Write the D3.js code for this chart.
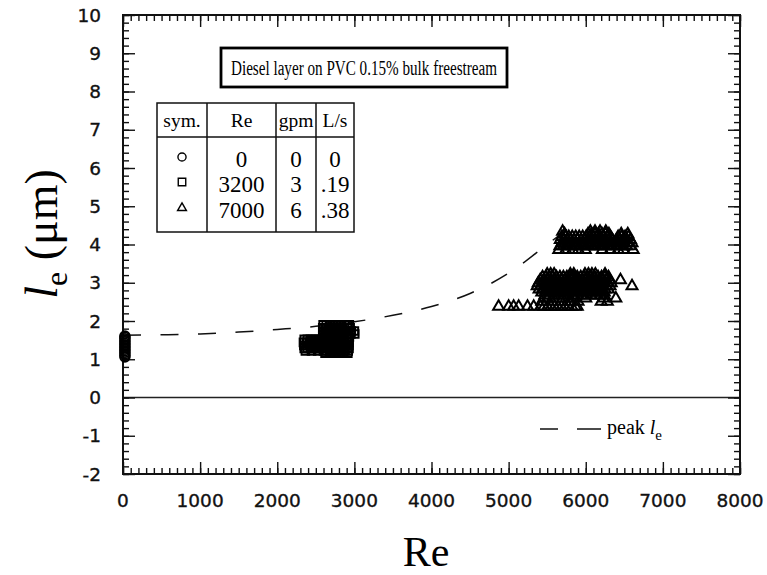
<!DOCTYPE html>
<html>
<head>
<meta charset="utf-8">
<script src="https://cdn.jsdelivr.net/npm/d3@7"></script>
<style>
  html, body { margin: 0; padding: 0; background: #fff; }
  svg { display: block; }
  .serif { font-family: "Liberation Serif", "Times New Roman", serif; }
  .sans { font-family: "DejaVu Sans", Verdana, sans-serif; }
</style>
</head>
<body>
<svg id="chart" width="767" height="575"></svg>
<script>
// ---- data -------------------------------------------------------------
const xTicks = [0, 1000, 2000, 3000, 4000, 5000, 6000, 7000, 8000];
const yTicks = [-2, -1, 0, 1, 2, 3, 4, 5, 6, 7, 8, 9, 10];

// Re = 0 (no flow): measured l_e values
const circleRe = 25;
const circleLe = [1.06, 1.10, 1.14, 1.18, 1.22, 1.26, 1.30, 1.34, 1.38,
                  1.42, 1.46, 1.50, 1.54, 1.58, 1.61];

// Re = 3200 (3 gpm): rows of [l_e, Re values]
const squareRows = [
  [1.90, [2595, 2635, 2675, 2715, 2755, 2795, 2835, 2875, 2915, 2935]],
  [1.82, [2590, 2630, 2670, 2710, 2750, 2790, 2830, 2870, 2910, 2945]],
  [1.74, [2600, 2640, 2680, 2720, 2760, 2800, 2840, 2880, 2920, 2960, 3000]],
  [1.66, [2595, 2635, 2675, 2715, 2755, 2795, 2835, 2875, 2915, 2955, 3005]],
  [1.58, [2590, 2630, 2670, 2710, 2750, 2790, 2830, 2870, 2910, 2935]],
  [1.52, [2350, 2390, 2430, 2470, 2510, 2550, 2590, 2630, 2670, 2710, 2750, 2790, 2830, 2870, 2910, 2930]],
  [1.44, [2340, 2380, 2420, 2460, 2500, 2540, 2580, 2620, 2660, 2700, 2740, 2780, 2820, 2860, 2900, 2930]],
  [1.36, [2345, 2385, 2425, 2465, 2505, 2545, 2585, 2625, 2665, 2705, 2745, 2785, 2825, 2865, 2905, 2930]],
  [1.28, [2350, 2390, 2430, 2470, 2510, 2550, 2590, 2630, 2670, 2710, 2750, 2790, 2830, 2870, 2910, 2930]],
  [1.22, [2365, 2445, 2525, 2600, 2640, 2680, 2720, 2760, 2800, 2840, 2880, 2920]],
  [1.16, [2620, 2680, 2740, 2800, 2860, 2915]]
];

// Re = 7000 (6 gpm): rows of [l_e, Re values]
const triangleRows = [
  // upper group
  [4.34, [5700, 6060, 6120, 6185, 6260]],
  [4.27, [5725, 6030, 6075, 6120, 6165, 6210, 6255, 6300, 6460, 6545]],
  [4.20, [5690, 5735, 5780, 5825, 5870, 5915, 5960, 6005, 6050, 6095, 6140, 6185, 6230, 6275, 6320, 6420, 6465, 6510, 6555]],
  [4.12, [5670, 5715, 5760, 5805, 5850, 5895, 5940, 5985, 6030, 6075, 6120, 6165, 6210, 6255, 6300, 6345, 6400, 6445, 6490, 6535, 6580]],
  [4.04, [5690, 5735, 5780, 5825, 5870, 5915, 5960, 6005, 6050, 6095, 6140, 6185, 6230, 6275, 6320, 6365, 6410, 6455, 6500, 6545, 6600]],
  [3.96, [5665, 5710, 5755, 5800, 5845, 5890, 5935, 5980, 6025, 6070, 6115, 6160, 6205, 6250, 6295, 6340, 6395, 6440, 6485, 6530, 6580]],
  [3.86, [5650, 5740, 5830, 5905, 5995, 6215, 6320, 6420, 6490, 6615]],
  // middle group
  [3.22, [5500, 5545, 5590, 5800, 5845, 5990, 6035, 6080, 6125, 6250]],
  [3.15, [5440, 5485, 5530, 5575, 5620, 5665, 5710, 5755, 5800, 5845, 5890, 5935, 5980, 6025, 6070, 6115, 6160, 6205, 6250, 6295]],
  [3.07, [5410, 5455, 5500, 5545, 5590, 5635, 5680, 5725, 5770, 5815, 5860, 5905, 5950, 5995, 6040, 6085, 6130, 6175, 6220, 6265, 6310, 6450]],
  [2.99, [5385, 5430, 5475, 5520, 5565, 5610, 5655, 5700, 5745, 5790, 5835, 5880, 5925, 5970, 6015, 6060, 6105, 6150, 6195, 6240, 6285, 6330]],
  [2.91, [5370, 5415, 5460, 5505, 5550, 5595, 5640, 5685, 5730, 5775, 5820, 5865, 5910, 5955, 6000, 6045, 6090, 6135, 6180, 6225, 6270, 6315, 6600]],
  [2.83, [5395, 5440, 5485, 5530, 5575, 5620, 5665, 5710, 5755, 5800, 5845, 5890, 5935, 5980, 6025, 6070, 6115, 6160, 6205, 6250, 6295]],
  [2.75, [5430, 5475, 5520, 5565, 5610, 5655, 5700, 5745, 5790, 5835, 5880, 5925, 5970, 6015, 6060, 6105, 6150, 6195, 6240]],
  [2.67, [5470, 5530, 5590, 5650, 5710, 5770, 5830, 5890, 5950, 6010, 6070, 6130, 6190, 6240]],
  [2.59, [5500, 5580, 5700, 5850, 6000, 6230, 6390]],
  [2.51, [5430, 5560, 5680, 5800, 5900, 6200, 6280]],
  // lower group
  [2.38, [4870, 5000, 5065, 5130, 5245, 5325, 5415, 5460, 5505, 5550, 5595, 5640, 5685, 5730, 5775, 5820, 5865, 5890]]
];

// peak l_e curve
const peakRe = [0, 500, 1000, 1500, 2000, 2500, 3000, 3500, 4000, 4500, 5000, 5500, 5760];
const peakLe = [1.63, 1.64, 1.66, 1.71, 1.78, 1.86, 1.98, 2.15, 2.38, 2.72, 3.25, 4.00, 4.40];

// legend table contents
const tableHeader = ["sym.", "Re", "gpm", "L/s"];
const tableSymbols = ["circle", "square", "triangle"];
const tableRe = ["0", "3200", "7000"];
const tableGpm = ["0", "3", "6"];
const tableLs = ["0", ".19", ".38"];

const titleText = "Diesel layer on PVC 0.15% bulk freestream";

// ---- layout -----------------------------------------------------------
const svg = d3.select("#chart");
const L = 123, R = 740, T = 15, B = 474;

const x = d3.scaleLinear().domain([0, 8000]).range([L, R]);
const y = d3.scaleLinear().domain([-2, 10]).range([B, T]);

const symType = { circle: d3.symbolCircle, square: d3.symbolSquare, triangle: d3.symbolTriangle };

// zero line
svg.append("line")
  .attr("x1", L).attr("x2", R)
  .attr("y1", y(0)).attr("y2", y(0))
  .attr("stroke", "#222").attr("stroke-width", 1.6);

// ---- ticks (inward, on all four sides) -------------------------------
const minorX = d3.range(0, 8001, 100);
const minorY = d3.range(-2, 10.001, 0.2).map(v => +v.toFixed(1));

function tickGroup(axisFn, scale, transform, values, size) {
  const g = svg.append("g").attr("transform", transform)
    .call(axisFn(scale).tickValues(values).tickSize(size).tickFormat(""));
  g.select(".domain").remove();
  g.selectAll(".tick line").attr("stroke", "#111").attr("stroke-width", 1.4);
  return g;
}
tickGroup(d3.axisBottom, x, `translate(0,${B})`, minorX, -6);
tickGroup(d3.axisBottom, x, `translate(0,${B})`, xTicks, -12);
tickGroup(d3.axisTop, x, `translate(0,${T})`, minorX, -6);
tickGroup(d3.axisTop, x, `translate(0,${T})`, xTicks, -12);
tickGroup(d3.axisLeft, y, `translate(${L},0)`, minorY, -6);
tickGroup(d3.axisLeft, y, `translate(${L},0)`, yTicks, -12);
tickGroup(d3.axisRight, y, `translate(${R},0)`, minorY, -6);
tickGroup(d3.axisRight, y, `translate(${R},0)`, yTicks, -12);

// tick labels
svg.append("g").selectAll("text").data(xTicks).join("text")
  .attr("class", "sans")
  .attr("x", d => x(d)).attr("y", 507)
  .attr("text-anchor", "middle")
  .attr("font-size", 18.5).attr("fill", "#111")
  .attr("stroke", "#111").attr("stroke-width", 0.35)
  .text(d => d);

svg.append("g").selectAll("text").data(yTicks).join("text")
  .attr("class", "sans")
  .attr("x", 101).attr("y", d => y(d) + 6.5)
  .attr("text-anchor", "end")
  .attr("font-size", 18.5).attr("fill", "#111")
  .attr("stroke", "#111").attr("stroke-width", 0.35)
  .text(d => d);

// frame
svg.append("rect")
  .attr("x", L).attr("y", T).attr("width", R - L).attr("height", B - T)
  .attr("fill", "none").attr("stroke", "#111").attr("stroke-width", 2);

// ---- peak curve --------------------------------------------------------
const peakData = peakRe.map((r, i) => [r, peakLe[i]]);
svg.append("path")
  .datum(peakData)
  .attr("d", d3.line().x(d => x(d[0])).y(d => y(d[1])).curve(d3.curveMonotoneX))
  .attr("fill", "none").attr("stroke", "#111").attr("stroke-width", 1.5)
  .attr("stroke-dasharray", "18,19.5");

// ---- data symbols (open markers) ---------------------------------------
const circlePoints = circleLe.map(v => [circleRe, v]);
const flatten = rows => rows.flatMap(([le, res]) => res.map(r => [r, le]));
const squarePoints = flatten(squareRows);
const trianglePoints = flatten(triangleRows);

function drawSymbols(points, type, size, sw) {
  const gen = d3.symbol().type(symType[type]).size(size);
  svg.append("g").selectAll("path").data(points).join("path")
    .attr("transform", d => `translate(${x(d[0])},${y(d[1])})`)
    .attr("d", gen())
    .attr("fill", "none").attr("stroke", "#000").attr("stroke-width", sw);
}
drawSymbols(circlePoints, "circle", 72, 1.8);
drawSymbols(squarePoints, "square", 58, 2.0);
drawSymbols(trianglePoints, "triangle", 52, 2.0);

// ---- title box ---------------------------------------------------------
svg.append("rect")
  .attr("x", 221).attr("y", 48).attr("width", 286).attr("height", 39)
  .attr("fill", "#fff").attr("stroke", "#000").attr("stroke-width", 2.8);
svg.append("text")
  .attr("class", "serif")
  .attr("x", 231).attr("y", 75)
  .attr("font-size", 20)
  .attr("textLength", 266).attr("lengthAdjust", "spacingAndGlyphs")
  .text(titleText);

// ---- legend table ------------------------------------------------------
const colX = [157, 207, 276, 316, 354];
const tTop = 103, tHead = 137, tBot = 232;
const tg = svg.append("g");
tg.append("rect")
  .attr("x", colX[0]).attr("y", tTop)
  .attr("width", colX[4] - colX[0]).attr("height", tBot - tTop)
  .attr("fill", "#fff").attr("stroke", "#111").attr("stroke-width", 1.5);
tg.append("line").attr("x1", colX[0]).attr("x2", colX[4])
  .attr("y1", tHead).attr("y2", tHead)
  .attr("stroke", "#111").attr("stroke-width", 1.5);
colX.slice(1, 4).forEach(cx => {
  tg.append("line").attr("x1", cx).attr("x2", cx)
    .attr("y1", tTop).attr("y2", tBot)
    .attr("stroke", "#111").attr("stroke-width", 1.5);
});
const colMid = d3.range(4).map(i => (colX[i] + colX[i + 1]) / 2);
tableHeader.forEach((h, i) => {
  tg.append("text").attr("class", "serif")
    .attr("x", colMid[i]).attr("y", 127)
    .attr("text-anchor", "middle").attr("font-size", 19.5)
    .text(h);
});
const rowBase = [166.5, 192, 218];
const symRowY = [157, 182, 208];
const tableSymSize = { circle: 52, square: 56, triangle: 34 };
tableSymbols.forEach((s, i) => {
  tg.append("path")
    .attr("transform", `translate(${colMid[0]},${symRowY[i]})`)
    .attr("d", d3.symbol().type(symType[s]).size(tableSymSize[s])())
    .attr("fill", "none").attr("stroke", "#000").attr("stroke-width", 1.4);
});
[tableRe, tableGpm, tableLs].forEach((col, ci) => {
  col.forEach((v, ri) => {
    tg.append("text").attr("class", "serif")
      .attr("x", colMid[ci + 1]).attr("y", rowBase[ri])
      .attr("text-anchor", "middle").attr("font-size", 23)
      .text(v);
  });
});

// ---- peak legend -------------------------------------------------------
svg.append("line")
  .attr("x1", 540).attr("x2", 601).attr("y1", 429).attr("y2", 429)
  .attr("stroke", "#111").attr("stroke-width", 1.5)
  .attr("stroke-dasharray", "18,19,24");
const pk = svg.append("text").attr("class", "serif")
  .attr("x", 607).attr("y", 434).attr("font-size", 20);
pk.append("tspan").text("peak ");
pk.append("tspan").attr("font-style", "italic").text("l");
pk.append("tspan").attr("font-size", 15).attr("dy", 6).text("e");

// ---- axis titles -------------------------------------------------------
const yl = svg.append("text").attr("class", "serif")
  .attr("transform", "translate(57,234) rotate(-90)")
  .attr("text-anchor", "middle").attr("font-size", 46);
yl.append("tspan").attr("font-style", "italic").text("l");
yl.append("tspan").attr("font-size", 32).attr("dy", 10).text("e");
yl.append("tspan").attr("dy", -10).text(" (μm)");

svg.append("text").attr("class", "serif")
  .attr("x", 426).attr("y", 566)
  .attr("text-anchor", "middle").attr("font-size", 42)
  .text("Re");
</script>
</body>
</html>
